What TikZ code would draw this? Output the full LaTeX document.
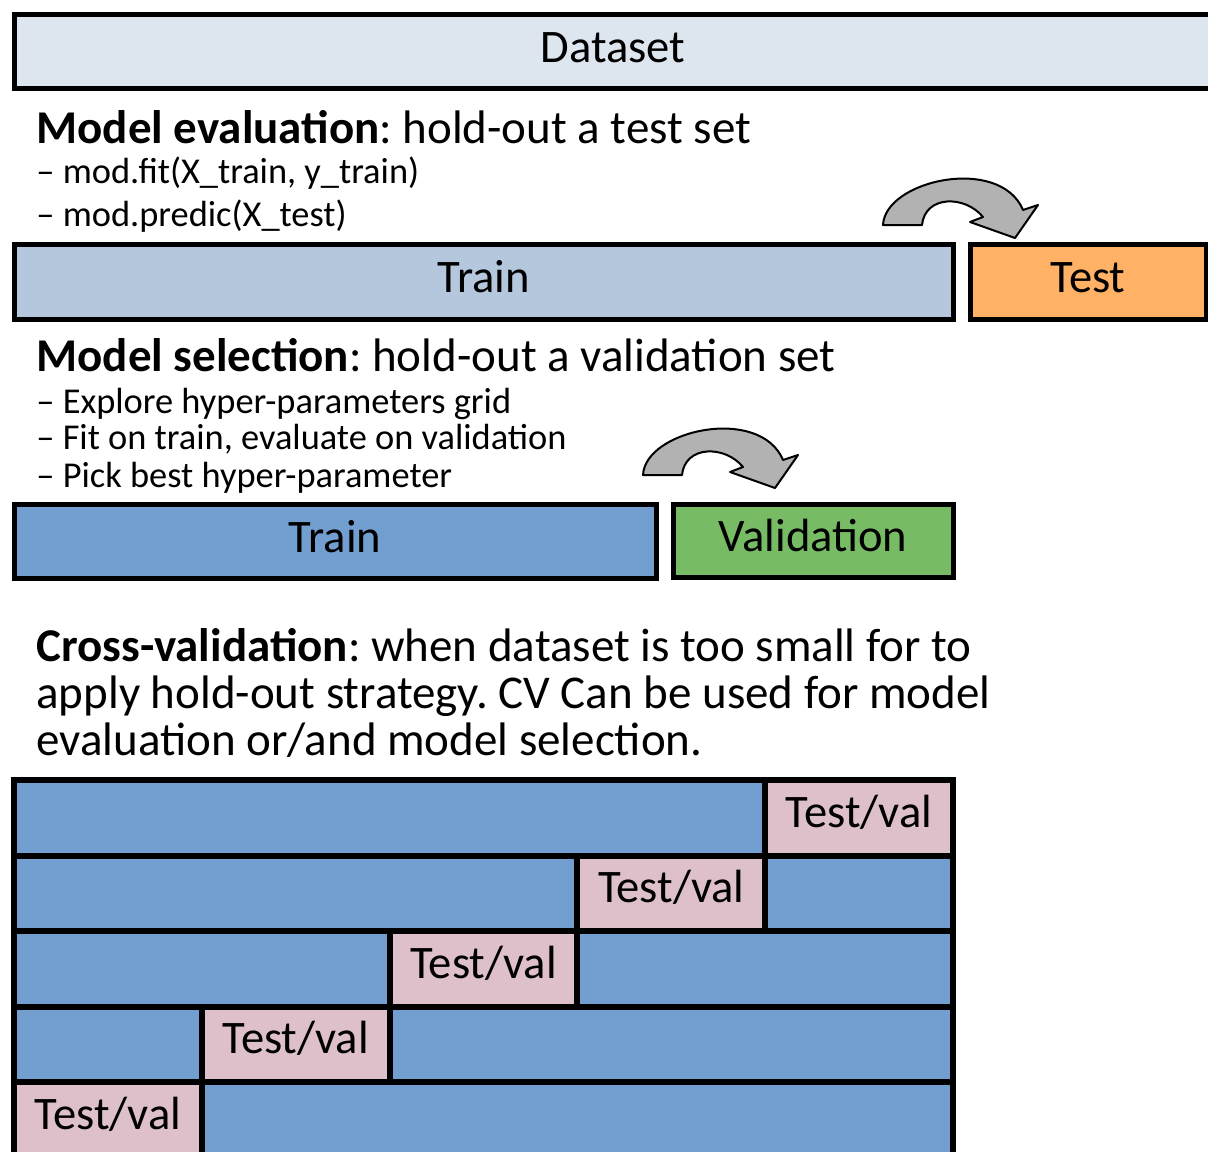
\documentclass[tikz,border=0pt]{standalone}
\usepackage{fontspec}
\setmainfont{Carlito}
\usepackage{xcolor}
\usepackage{tikz}
\usetikzlibrary{positioning}
\frenchspacing

\definecolor{datafill}{HTML}{DDE5EF}
\definecolor{trainlight}{HTML}{B4C7DD}
\definecolor{trainblue}{HTML}{729FCF}
\definecolor{testorange}{HTML}{FFB266}
\definecolor{valgreen}{HTML}{77BC65}
\definecolor{foldpink}{HTML}{DEC0CB}
\definecolor{arrowgray}{HTML}{B2B2B2}

\begin{document}
\begin{tikzpicture}[x=0.5pt, y=-0.5pt,
    box/.style={draw, line width=2.5pt, inner sep=0pt, outer sep=0pt,
        text height=16pt, text depth=4.7pt, font=\fontsize{23.3}{27}\selectfont},
    heading/.style={anchor=base west, inner sep=0pt, font=\fontsize{23.5}{27}\selectfont},
    bullet/.style={anchor=base west, inner sep=0pt, font=\fontsize{18.2}{22}\selectfont},
    cvbox/.style={draw, line width=3pt, inner sep=0pt, outer sep=0pt, minimum height=37.75pt,
        text height=16pt, text depth=6.7pt, font=\fontsize{23.3}{27}\selectfont}]
    \clip (0,0) rectangle (1208,1151);

    % Whole dataset
    \node[box, fill=datafill, minimum width=599pt, minimum height=37pt] (dataset) at (613, 51) {Dataset};

    % Model evaluation
    \node[heading] (evalhead) at (36, 143) {\textbf{Model evaluation}: hold-out a test set};
    \node[bullet] (evalfit) at (36, 183) {– mod.fit(X\_train, y\_train)};
    \node[bullet] (evalpred) at (36, 226) {– mod.predic(X\_test)};
    \node[box, fill=trainlight, minimum width=469.5pt, minimum height=37.5pt] (train) at (483.5, 281.5) {Train};
    \node[box, fill=testorange, minimum width=118pt, minimum height=37.5pt] (test) at (1088, 281.5) {Test};

    % Model selection
    \node[heading] (selhead) at (36, 371) {\textbf{Model selection}: hold-out a validation set};
    \node[bullet] (selgrid) at (36, 413) {– Explore hyper-parameters grid};
    \node[bullet] (selfit) at (36, 449) {– Fit on train, evaluate on validation};
    \node[bullet] (selpick) at (36, 487) {– Pick best hyper-parameter};
    \node[box, fill=trainblue, minimum width=321pt, minimum height=37pt] (trainsel) at (335, 541) {Train};
    \node[box, fill=valgreen, minimum width=140pt, minimum height=36.5pt] (valid) at (813, 540.5) {Validation};

    % Curved arrows (train -> held-out part)
    \foreach \dx/\dy in {0/0, -240/250} {
        \draw[line width=1pt, fill=arrowgray, line join=round, shift={(\dx,\dy)}]
            (883,225) .. controls (885,180) and (1000,155) .. (1023,210)
            -- (1038,205) -- (1015,238) -- (970,222) -- (983,217)
            .. controls (965,195) and (925,195) .. (922,225) -- cycle;
    }

    % Cross-validation
    \node[heading, align=left, font=\fontsize{23.5}{23.5}\selectfont] (cvtext) at (36, 755)
        {\textbf{Cross-validation}: when dataset is too small for to\\
         apply hold-out strategy. CV Can be used for model\\
         evaluation or/and model selection.};

    \foreach \k in {0,...,4} {
        \node[cvbox, fill=trainblue, minimum width=469.5pt] (row\k) at (483.5, {817.75+\k*75.5}) {};
        \node[cvbox, fill=foldpink, minimum width=93.9pt] (fold\k) at ({14+(4.5-\k)*187.8}, {817.75+\k*75.5}) {Test/val};
    }
\end{tikzpicture}
\end{document}
